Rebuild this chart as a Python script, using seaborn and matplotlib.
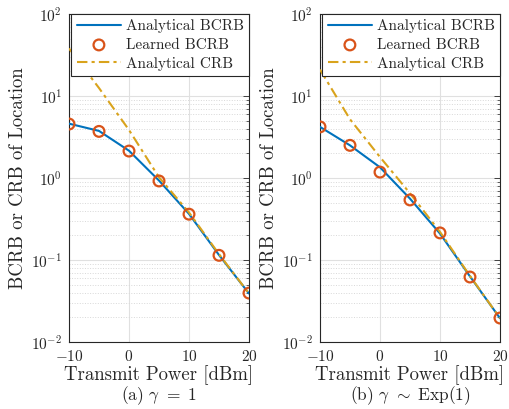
import numpy as np
import pandas as pd
import matplotlib
matplotlib.use('Agg')
import matplotlib.pyplot as plt
import matplotlib.ticker as mticker
import seaborn as sns

sns.set_style('white')
plt.rcParams['mathtext.fontset'] = 'cm'
plt.rcParams['font.family'] = ['cmr10', 'DejaVu Serif']
plt.rcParams['axes.unicode_minus'] = False

# transmit power [dBm]
power = [-10, -5, 0, 5, 10, 15, 20]

# (a) gamma = 1
bcrb_a = [4.6, 3.75, 2.15, 0.93, 0.365, 0.115, 0.039]
learned_a = [4.55, 3.7, 2.13, 0.92, 0.362, 0.114, 0.0395]
crb_a = [38.0, 12.5, 3.85, 1.02, 0.38, 0.118, 0.039]

# (b) gamma ~ Exp(1)
bcrb_b = [4.2, 2.5, 1.35, 0.56, 0.21, 0.063, 0.0195]
learned_b = [4.2, 2.5, 1.18, 0.54, 0.214, 0.062, 0.0196]
crb_b = [21.0, 5.2, 1.8, 0.65, 0.22, 0.064, 0.0195]

captions = [r'(a) $\gamma\ =\ 1$', r'(b) $\gamma\ \sim\ \mathrm{Exp}(1)$']

blue = '#0072BD'
orange = '#D95319'
gold = '#D9A31C'

fig = plt.figure(figsize=(5.09, 4.09), dpi=100)
ax_a = fig.add_axes([0.1356, 0.1638, 0.3536, 0.802])
ax_b = fig.add_axes([0.6287, 0.1638, 0.3536, 0.802])

panels = [(ax_a, bcrb_a, learned_a, crb_a), (ax_b, bcrb_b, learned_b, crb_b)]

for i, (ax, bcrb, learned, crb) in enumerate(panels):
    df = pd.DataFrame({'power': power, 'bcrb': bcrb, 'learned': learned, 'crb': crb})
    sns.lineplot(data=df, x='power', y='bcrb', ax=ax, color=blue, lw=1.5,
                 label='Analytical BCRB', zorder=3)
    sns.scatterplot(data=df, x='power', y='learned', ax=ax, marker='o', s=60,
                    facecolor='none', edgecolor=orange, linewidth=1.6,
                    label='Learned BCRB', zorder=4)
    sns.lineplot(data=df, x='power', y='crb', ax=ax, color=gold, lw=1.5,
                 linestyle=(0, (5, 2, 1.5, 2)), label='Analytical CRB', zorder=3)

    ax.set_yscale('log')
    ax.set_xlim(-10, 20)
    ax.set_ylim(1e-2, 1e2)
    ax.set_xticks([-10, 0, 10, 20])
    ax.xaxis.set_major_formatter(mticker.FuncFormatter(lambda v, p: r'$\mathsf{%d}$' % v))
    ax.yaxis.set_major_locator(mticker.LogLocator(base=10, numticks=10))
    ax.yaxis.set_minor_locator(mticker.LogLocator(base=10, subs=np.arange(2, 10), numticks=10))
    ax.yaxis.set_major_formatter(mticker.FuncFormatter(
        lambda v, p: r'$\mathsf{10^{%d}}$' % int(round(np.log10(v)))))
    ax.yaxis.set_minor_formatter(mticker.NullFormatter())

    ax.grid(True, which='major', color='#e0e0e0', lw=0.8, ls='-')
    ax.grid(True, which='minor', axis='y', color='#d8d8d8', lw=0.7, ls=':')
    ax.set_axisbelow(True)

    ax.tick_params(which='both', direction='in', top=True, right=True,
                   labelsize=11, colors='#262626', labelcolor='#262626')
    ax.tick_params(which='major', length=4, width=0.6)
    ax.tick_params(which='minor', length=2, width=0.5)
    ax.tick_params(axis='x', pad=5)
    ax.tick_params(axis='y', pad=5)
    for sp in ax.spines.values():
        sp.set_color('#262626')
        sp.set_linewidth(0.8)

    ax.set_xlabel('Transmit Power [dBm]', fontsize=13.5, labelpad=1)
    ax.set_ylabel('BCRB or CRB of Location', fontsize=13.5, labelpad=3)

    leg = ax.legend(loc='upper right', bbox_to_anchor=(1.0, 1.0), borderaxespad=0,
                    fontsize=11, frameon=True, fancybox=False, edgecolor='#262626',
                    handlelength=2.9, handletextpad=0.3, labelspacing=0.32,
                    borderpad=0.35)
    leg.get_frame().set_linewidth(0.8)
    leg.get_frame().set_alpha(1)

    ax.text(0.5, -0.13, captions[i], transform=ax.transAxes, ha='center', va='top',
            fontsize=12.5)

fig.savefig('out.png', dpi=100)
